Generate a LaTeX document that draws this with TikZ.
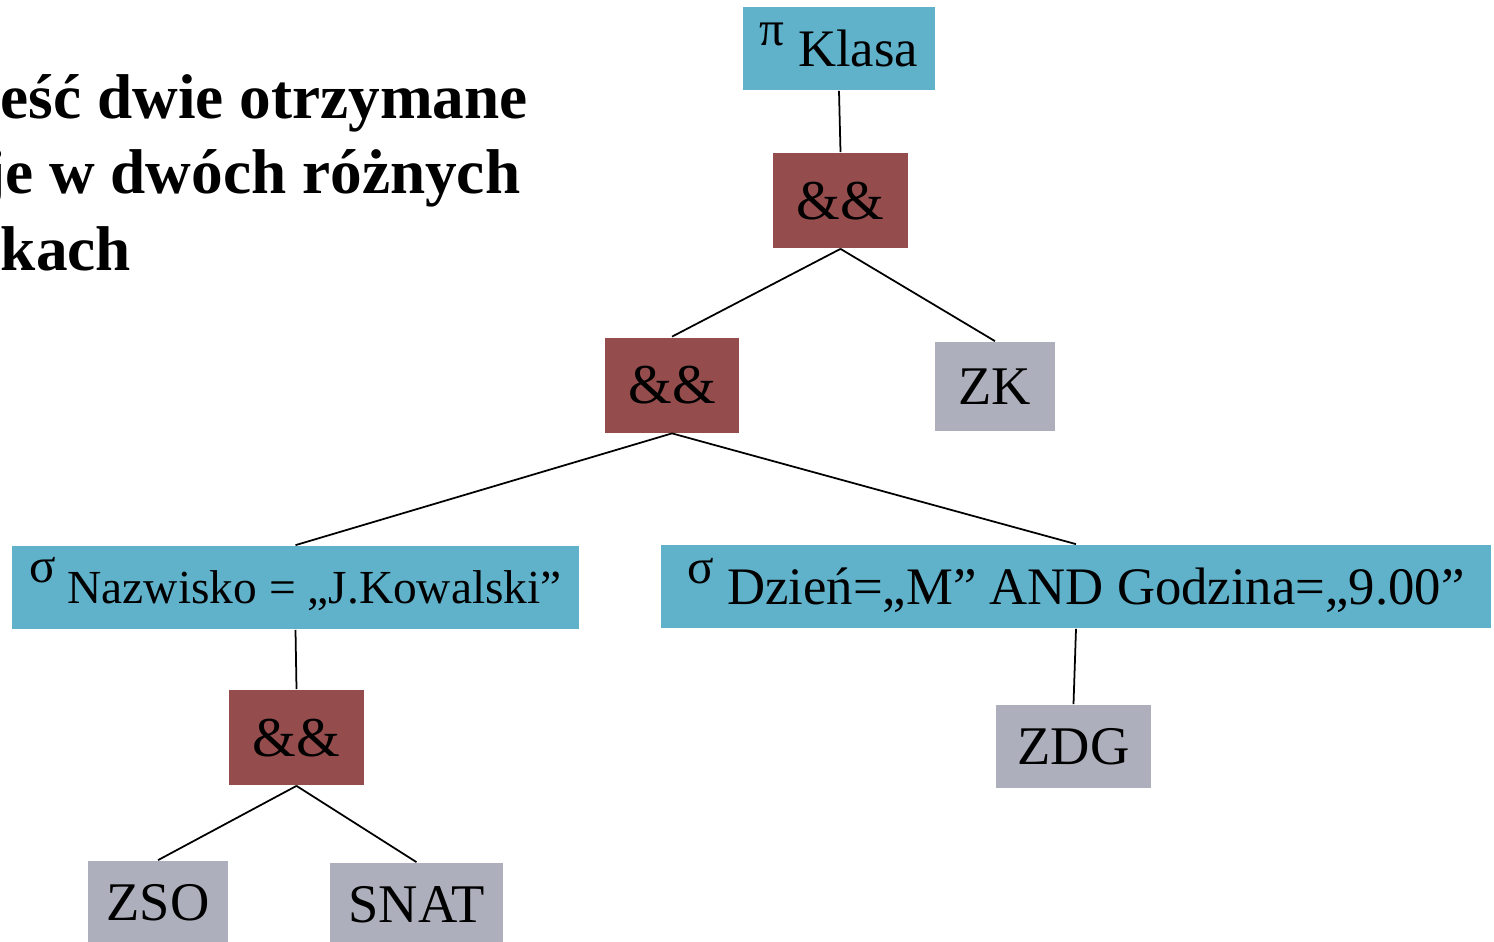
\documentclass[tikz,border=0pt]{standalone}
\usepackage{fontspec}
\setmainfont{Liberation Serif}
\usepackage{tikz}

\definecolor{selblue}{RGB}{96,178,203}
\definecolor{joinred}{RGB}{148,76,76}
\definecolor{relgray}{RGB}{173,176,188}
\newcommand{\opsym}[1]{{\fontsize{28}{28}\selectfont\raisebox{12pt}[0pt][0pt]{#1}}}

\begin{document}
\begin{tikzpicture}[x=0.02cm,y=-0.02cm,line width=1pt,
  op/.style={fill=selblue, inner sep=0pt, text depth=0pt, minimum height=1.66cm, font=\fontsize{30}{30}\selectfont},
  joinop/.style={fill=joinred, inner sep=0pt, text depth=0pt, minimum width=2.7cm, minimum height=1.9cm, font=\fontsize{32}{32}\selectfont},
  rel/.style={fill=relgray, inner sep=0pt, text depth=0pt, minimum height=1.66cm, font=\fontsize{31}{31}\selectfont},
  head/.style={anchor=base west, inner sep=0pt, font=\fontsize{36}{36}\selectfont\bfseries}]
\useasboundingbox (0,0) rectangle (1494,941);

\node[head] (line1) at (0,118) {eść dwie otrzymane};
\node[head] (line2) at (-16.5,193) {je w dwóch różnych};
\node[head] (line3) at (0,270) {kach};

\node[op, minimum width=3.84cm] (proj) at (839,48.5) {\opsym{π}\ Klasa};
\node[joinop] (and1) at (840.5,200.5) {\&\&};
\node[joinop] (and2) at (672,385) {\&\&};
\node[rel, minimum width=2.4cm, minimum height=1.78cm] (zk) at (995,386.5) {ZK};
\node[op, minimum width=11.34cm, font=\fontsize{27}{27}\selectfont] (selname) at (295.5,587.5) {\opsym{σ}\ Nazwisko = „J.Kowalski”};
\node[op, minimum width=16.6cm] (selday) at (1076,586.5) {\opsym{σ}\ Dzień=„M” AND Godzina=„9.00”};
\node[joinop] (and3) at (296.5,737.5) {\&\&};
\node[rel, minimum width=3.1cm] (zdg) at (1073.5,746.5) {ZDG};
\node[rel, minimum width=2.8cm] (zso) at (158,902.5) {ZSO};
\node[rel, minimum width=3.46cm] (snat) at (416.5,904.5) {SNAT};

\draw (proj.south)--(and1.north);
\draw (and1.south)--(and2.north) (and1.south)--(zk.north);
\draw (and2.south)--(selname.north) (and2.south)--(selday.north);
\draw (selname.south)--(and3.north);
\draw (selday.south)--(zdg.north);
\draw (and3.south)--(zso.north) (and3.south)--(snat.north);
\end{tikzpicture}
\end{document}
